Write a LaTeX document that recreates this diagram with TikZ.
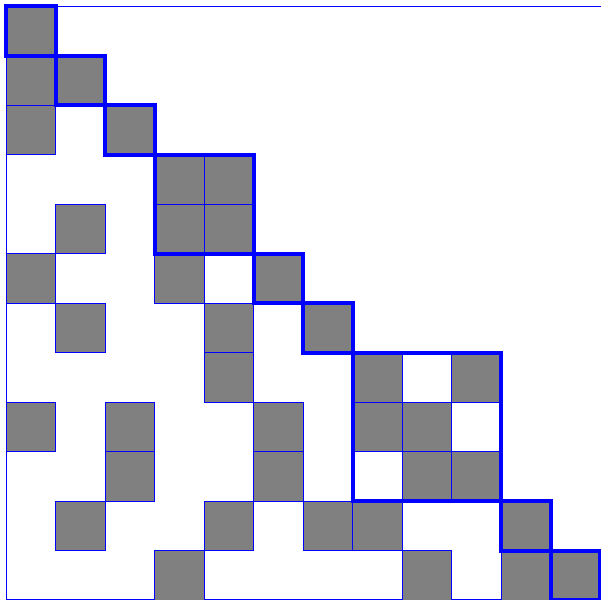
\documentclass[tikz,border=0pt]{standalone}
\begin{document}
\begin{tikzpicture}[x=0.75pt,y=-0.75pt,
  cellbox/.style={fill=gray,draw=blue,line width=0.75pt},
  blockbox/.style={draw=blue,line width=3pt},
  framebox/.style={draw=blue,line width=0.75pt}]
\useasboundingbox (0,0) rectangle (601,600);
\def\cs{49.5}
\draw[framebox] (602,6) -- (6,6) -- (6,599) -- (602,599);
% filled cells: row/col
\foreach \r/\c in {0/0,1/0,1/1,2/0,2/2,3/3,3/4,4/1,4/3,4/4,5/0,5/3,5/5,
  6/1,6/4,6/6,7/4,7/7,7/9,8/0,8/2,8/5,8/7,8/8,9/2,9/5,9/8,9/9,
  10/1,10/4,10/6,10/7,10/10,11/3,11/8,11/10,11/11}
  \draw[cellbox] ({6+\c*\cs},{6+\r*\cs}) rectangle ({6+(\c+1)*\cs},{6+(\r+1)*\cs});
% diagonal blocks: start/end
\foreach \a/\b in {0/0,1/1,2/2,3/4,5/5,6/6,7/9,10/10,11/11}
  \draw[blockbox] ({6+\a*\cs},{6+\a*\cs}) rectangle ({6+(\b+1)*\cs},{6+(\b+1)*\cs});
\end{tikzpicture}
\end{document}
